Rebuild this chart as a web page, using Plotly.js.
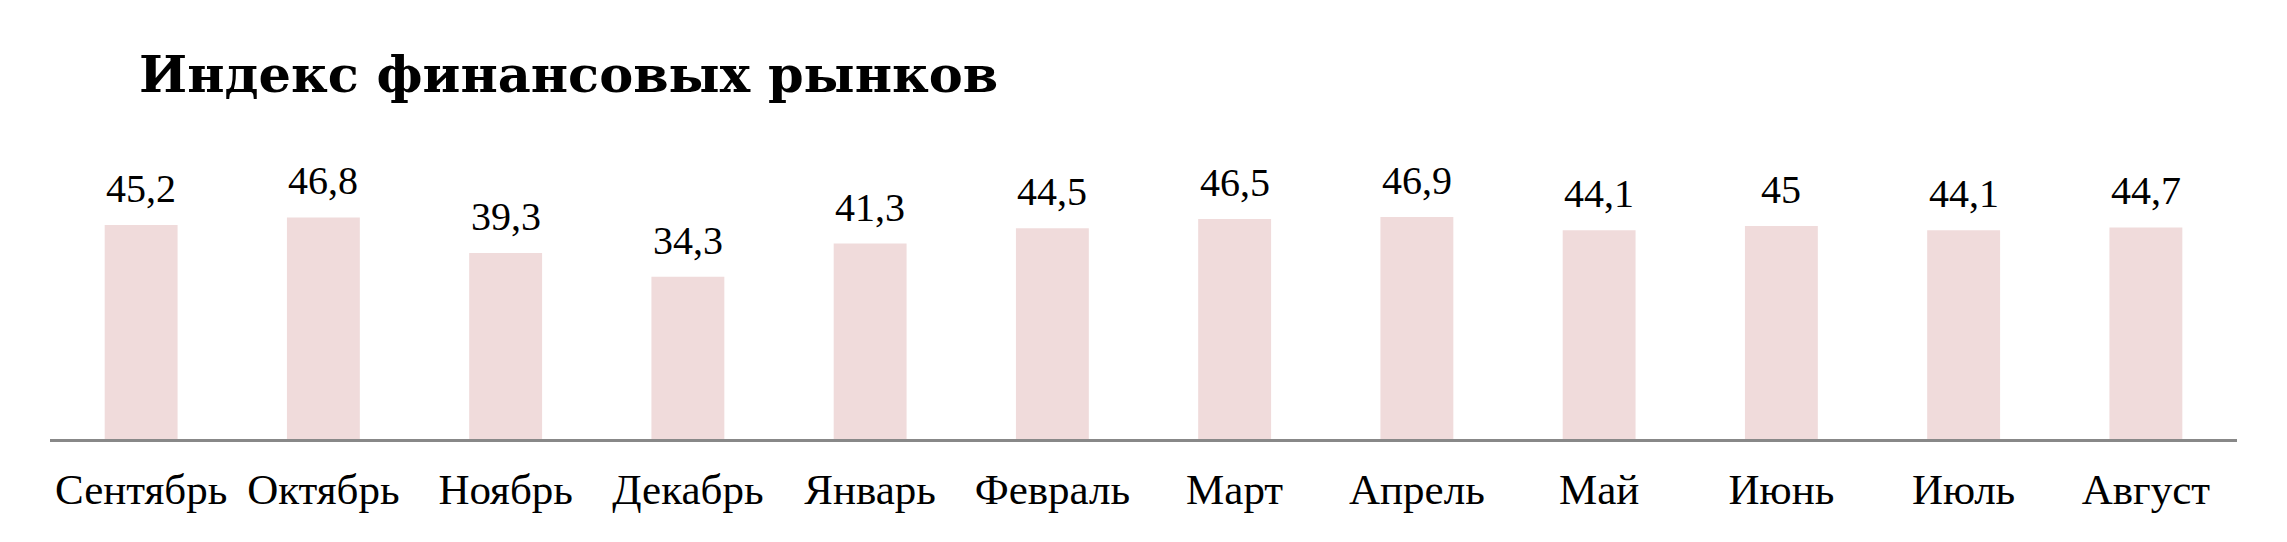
<!DOCTYPE html>
<html>
<head>
<meta charset="utf-8">
<script src="https://cdn.plot.ly/plotly-3.0.1.min.js"></script>
<style>html,body{margin:0;padding:0;background:#fff;}</style>
</head>
<body>
<div id="chart" style="width:2287px;height:542px;"></div>
<script>
const chartTitle = "Индекс финансовых рынков";
const months = ["Сентябрь","Октябрь","Ноябрь","Декабрь","Январь","Февраль","Март","Апрель","Май","Июнь","Июль","Август"];
const indexValues = [45.2, 46.8, 39.3, 34.3, 41.3, 44.5, 46.5, 46.9, 44.1, 45, 44.1, 44.7];

const labelText = indexValues.map(v => String(v).replace('.', ','));

const trace = {
  type: 'bar',
  x: months,
  y: indexValues,
  width: 0.4,
  marker: {color: '#f0dbdb', line: {width: 0}},
  hoverinfo: 'x+y'
};

const annotations = months.map((m, i) => ({
  x: m, y: indexValues[i], xref: 'x', yref: 'y',
  text: labelText[i], showarrow: false,
  yanchor: 'bottom', yshift: 12,
  font: {family: 'Liberation Serif, serif', size: 40, color: '#000'}
}));

const layout = {
  width: 2287, height: 542,
  margin: {l: 50, r: 50, t: 155, b: 103, pad: 0},
  paper_bgcolor: '#fff', plot_bgcolor: '#fff',
  showlegend: false,
  title: {
    text: '<b>' + chartTitle + '</b>',
    xref: 'container', yref: 'container',
    x: 139/2287, xanchor: 'left',
    y: 1 - 74/542, yanchor: 'middle',
    font: {family: 'DejaVu Serif, serif', size: 51, color: '#000'}
  },
  xaxis: {
    type: 'category',
    showline: true, linecolor: '#888888', linewidth: 3,
    ticks: '', showgrid: false, zeroline: false,
    tickfont: {family: 'Liberation Serif, serif', size: 43, color: '#000'},
    ticklabelstandoff: 10
  },
  yaxis: {
    range: [0, 60], visible: false, showgrid: false, zeroline: false
  },
  annotations: annotations
};

Plotly.newPlot('chart', [trace], layout, {displayModeBar: false, staticPlot: true});
</script>
</body>
</html>
